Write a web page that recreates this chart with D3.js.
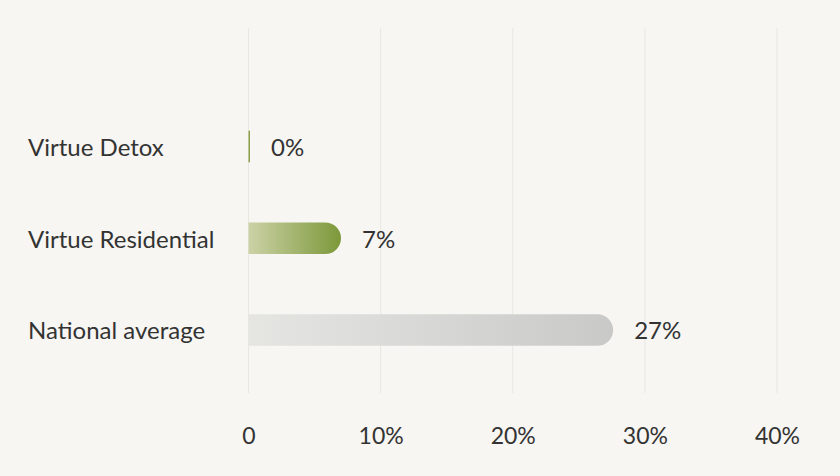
<!DOCTYPE html>
<html><head><meta charset="utf-8">
<script src="https://cdn.jsdelivr.net/npm/d3@7"></script>
<style>
html,body{margin:0;padding:0;background:#f7f6f2;}
svg{display:block;font-family:Lato, "Noto Sans", sans-serif;}
</style></head>
<body>
<svg id="chart" width="840" height="476"></svg>
<script>
const categories = ["Virtue Detox", "Virtue Residential", "National average"];
const values = [0, 7, 27.6];
const valueLabels = ["0%", "7%", "27%"];
const tickValues = [0, 10, 20, 30, 40];
const tickLabels = ["0", "10%", "20%", "30%", "40%"];

const W = 840, H = 476;
const svg = d3.select("#chart");
svg.append("rect").attr("width", W).attr("height", H).attr("fill", "#f7f6f2");

const defs = svg.append("defs");
const g1 = defs.append("linearGradient").attr("id", "gGreen").attr("x1", "0").attr("x2", "1").attr("y1", "0").attr("y2", "0");
g1.append("stop").attr("offset", "0").attr("stop-color", "#ccd2a6");
g1.append("stop").attr("offset", "1").attr("stop-color", "#7c983a");
const g2 = defs.append("linearGradient").attr("id", "gGrey").attr("x1", "0").attr("x2", "1").attr("y1", "0").attr("y2", "0");
g2.append("stop").attr("offset", "0").attr("stop-color", "#e5e5e2");
g2.append("stop").attr("offset", "1").attr("stop-color", "#c9c9c8");
const fills = ["#8aa04a", "url(#gGreen)", "url(#gGrey)"];

const x = d3.scaleLinear().domain([0, 40]).range([248.5, 777]);
const y = d3.scalePoint().domain(categories).range([100.5, 376]).padding(0.5);
const barH = 31.5;

// grid
svg.append("g").selectAll("line").data(tickValues).join("line")
  .attr("x1", d => x(d)).attr("x2", d => x(d))
  .attr("y1", 28).attr("y2", 393)
  .attr("stroke", "#e9e7e1").attr("stroke-width", 1);

// axis labels
const axis = d3.axisBottom(x).tickValues(tickValues).tickSize(0)
  .tickFormat((d, i) => tickLabels[i]);
const ax = svg.append("g").attr("transform", "translate(0,393)").call(axis);
ax.select(".domain").remove();
ax.selectAll("text").attr("y", 43).attr("dy", "0.35em")
  .attr("fill", "#333").style("font-size", "23px").style("font-family", "Lato");

// category labels
svg.append("g").selectAll("text").data(categories).join("text")
  .attr("x", 28).attr("y", d => y(d) + 1).attr("dy", "0.35em")
  .attr("fill", "#333").style("font-size", "24px")
  .text(d => d);

function barPath(x0, w, yc, h) {
  const r = Math.min(h / 2, w);
  const t = yc - h / 2, b = yc + h / 2;
  if (w <= 3) return `M${x0},${t}H${x0 + w}V${b}H${x0}Z`;
  return `M${x0},${t}H${x0 + w - r}A${r},${r} 0 0 1 ${x0 + w},${t + r}V${b - r}A${r},${r} 0 0 1 ${x0 + w - r},${b}H${x0}Z`;
}

const data = categories.map((c, i) => ({c, v: values[i], label: valueLabels[i], fill: fills[i]}));
svg.append("g").selectAll("path").data(data).join("path")
  .attr("d", d => barPath(x(0), Math.max(1.5, x(d.v) - x(0)), y(d.c), barH))
  .attr("fill", d => d.fill);

svg.append("g").selectAll("text").data(data).join("text")
  .attr("x", d => Math.max(x(0) + 1.5, x(d.v)) + 21).attr("y", d => y(d.c) + 1).attr("dy", "0.35em")
  .attr("fill", "#333").style("font-size", "24px")
  .text(d => d.label);
</script>
</body></html>
